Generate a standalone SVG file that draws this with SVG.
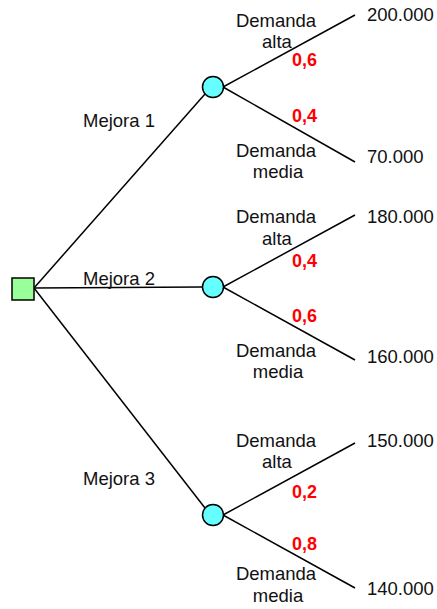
<svg xmlns="http://www.w3.org/2000/svg" width="437" height="609" viewBox="0 0 437 609">
<style>
.e{stroke:#000;stroke-width:1.5;fill:none}
.t{font-family:"Liberation Sans",Arial,sans-serif;font-size:18.5px;fill:#111}
.m{text-anchor:middle}
.p{font-family:"Liberation Sans",Arial,sans-serif;font-size:18px;font-weight:bold;fill:#f00}
.c{fill:#66ffff;stroke:#000;stroke-width:1.5}
.s{fill:#99ff99;stroke:#000;stroke-width:1.5}
</style>
<rect width="437" height="609" fill="#fff"/>
<g id="connectors">
<line class="e" x1="34" y1="288" x2="205" y2="94"/>
<line class="e" x1="34" y1="288" x2="202" y2="287"/>
<line class="e" x1="34" y1="288" x2="205" y2="508"/>
<line class="e" x1="223" y1="87" x2="355" y2="15"/>
<line class="e" x1="223" y1="87" x2="355" y2="162"/>
<line class="e" x1="223" y1="287" x2="355" y2="215"/>
<line class="e" x1="223" y1="287" x2="355" y2="360"/>
<line class="e" x1="223" y1="515" x2="355" y2="443"/>
<line class="e" x1="223" y1="515" x2="355" y2="588"/>
</g>
<g id="decision"><rect class="s" x="12" y="278" width="22" height="22"/></g>
<g id="chance1"><circle class="c" cx="213" cy="87" r="10.5"/></g>
<g id="chance2"><circle class="c" cx="213" cy="287" r="10.5"/></g>
<g id="chance3"><circle class="c" cx="213" cy="515" r="10.5"/></g>
<g id="labels">
<text class="t" x="83" y="127">Mejora 1</text>
<text class="t" x="83" y="285">Mejora 2</text>
<text class="t" x="83" y="485">Mejora 3</text>
<text class="t m" x="276" y="27">Demanda</text>
<text class="t m" x="277" y="48">alta</text>
<text class="p" x="292" y="66">0,6</text>
<text class="p" x="292" y="122">0,4</text>
<text class="t m" x="276" y="157">Demanda</text>
<text class="t m" x="278" y="178">media</text>
<text class="t" x="367" y="21">200.000</text>
<text class="t" x="367" y="163">70.000</text>
<text class="t m" x="276" y="223">Demanda</text>
<text class="t m" x="277" y="245">alta</text>
<text class="p" x="292" y="267">0,4</text>
<text class="p" x="292" y="322">0,6</text>
<text class="t m" x="276" y="357">Demanda</text>
<text class="t m" x="278" y="378">media</text>
<text class="t" x="367" y="223">180.000</text>
<text class="t" x="367" y="363">160.000</text>
<text class="t m" x="276" y="447">Demanda</text>
<text class="t m" x="277" y="468">alta</text>
<text class="p" x="292" y="498">0,2</text>
<text class="p" x="292" y="550">0,8</text>
<text class="t m" x="276" y="580">Demanda</text>
<text class="t m" x="278" y="602">media</text>
<text class="t" x="367" y="447">150.000</text>
<text class="t" x="367" y="595">140.000</text>
</g>
</svg>
